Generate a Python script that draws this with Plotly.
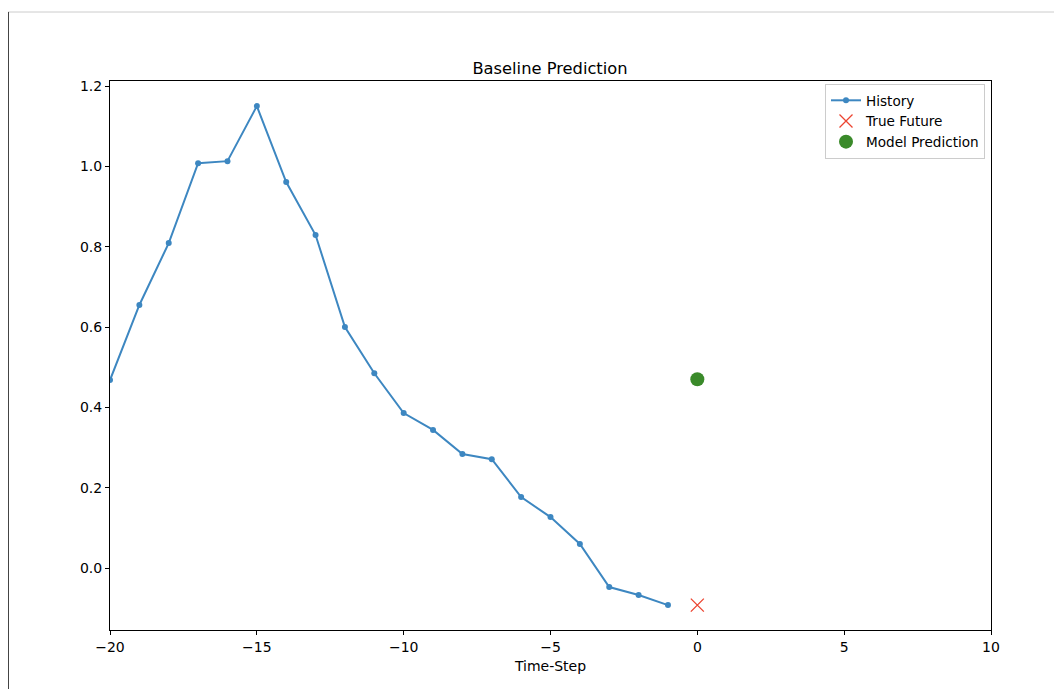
import plotly.graph_objects as go

history_x = list(range(-20, 0))
history_y = [0.468, 0.655, 0.809, 1.008, 1.013, 1.150, 0.961, 0.829, 0.600, 0.485,
             0.386, 0.344, 0.284, 0.271, 0.177, 0.127, 0.060, -0.047, -0.067, -0.092]
future_x = [0]
future_y = [-0.092]
pred_x = [0]
pred_y = [0.470]

BLUE = "#3d87c1"
RED = "#ec4430"
GREEN = "#3a8a2a"
FONT = "DejaVu Sans"

# page is offset by 8px body margin; compensate
L, T, R, B = 102, 73, 79, 67
PW = 1062 - L - R
PH = 689 - T - B

fig = go.Figure()
fig.add_trace(go.Scatter(x=history_x, y=history_y, mode="lines+markers", name="History",
                         line=dict(color=BLUE, width=2), marker=dict(color=BLUE, size=6)))
fig.add_trace(go.Scatter(x=future_x, y=future_y, mode="markers", name="True Future",
                         marker=dict(symbol="x-thin", color=RED, size=13,
                                     line=dict(color=RED, width=1.3))))
fig.add_trace(go.Scatter(x=pred_x, y=pred_y, mode="markers", name="Model Prediction",
                         marker=dict(color=GREEN, size=14)))

axis_common = dict(showline=True, linecolor="black", linewidth=1, mirror=True,
                   ticks="outside", ticklen=4, tickcolor="black", showgrid=False,
                   zeroline=False, tickfont=dict(family=FONT, size=14, color="black"))

fig.update_layout(
    width=1062, height=689,
    margin=dict(l=L, r=R, t=T, b=B),
    paper_bgcolor="white", plot_bgcolor="white",
    font=dict(family=FONT, size=14, color="black"),
    title=dict(text="Baseline Prediction", x=542 / 1062, xanchor="center",
               y=1 - 60 / 689, yanchor="middle",
               font=dict(family=FONT, size=16.3, color="black")),
    xaxis=dict(range=[-20, 10], dtick=5, tick0=0,
               title=dict(text="Time-Step", font=dict(family=FONT, size=14), standoff=7),
               **axis_common),
    yaxis=dict(range=[-0.154, 1.2125], dtick=0.2, tick0=0, tickformat=".1f", **axis_common),
    legend=dict(x=1 - 6 / PW, y=0.9946, xanchor="right", yanchor="top",
                bgcolor="rgba(255,255,255,0.9)", bordercolor="#cccccc", borderwidth=1,
                font=dict(family=FONT, size=13.6), tracegroupgap=0),
    showlegend=True,
)

# screenshot frame lines (page x=8 -> fig x=0; page y=12 -> fig y=4)
frame_top = (T + PH - 4) / PH
fig.add_shape(type="line", xref="paper", yref="paper",
              x0=(0 - L) / PW, x1=(1062 - L) / PW,
              y0=frame_top, y1=frame_top,
              line=dict(color="#cccccc", width=1))
fig.add_shape(type="line", xref="paper", yref="paper",
              x0=(0.5 - L) / PW, x1=(0.5 - L) / PW,
              y0=frame_top, y1=-B / PH,
              line=dict(color="#444444", width=1))

fig.write_html("out.html")
